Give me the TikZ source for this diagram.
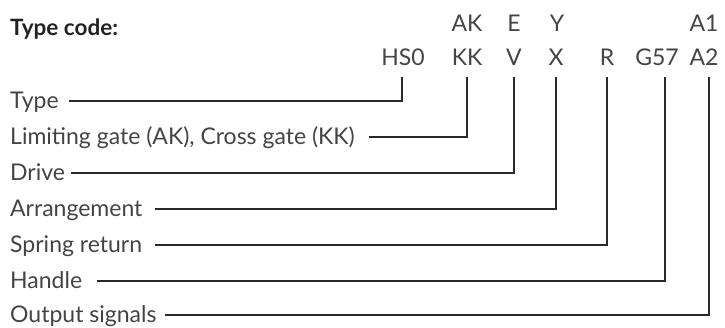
\documentclass[tikz,border=0pt]{standalone}
\usepackage{fontspec}
\setmainfont{Lato}
\definecolor{txt}{HTML}{444444}
\definecolor{ttl}{HTML}{222222}
\definecolor{ln}{HTML}{2A2A2A}
\begin{document}
\begin{tikzpicture}[x=1pt,y=-1pt,
  lbl/.style={anchor=base west, inner sep=0pt, text height=16pt, text depth=0pt,
    font=\fontsize{23}{27}\selectfont, text=txt},
  code/.style={anchor=base, inner sep=0pt, font=\fontsize{23}{27}\selectfont, text=txt},
  conn/.style={draw=ln, line width=1.4pt}]
\useasboundingbox (0,0) rectangle (725,328);
% title
\node[anchor=base west, inner sep=0pt, font=\bfseries\fontsize{22.5}{27}\selectfont, text=ttl] (title) at (10,36) {Type code:};
% code letters
\node[code] (c1) at (403,66) {HS0};
\node[code] (c2) at (467,66) {KK};
\node[code] (c2a) at (467,32) {AK};
\node[code] (c3) at (514,66) {V};
\node[code] (c3a) at (514,32) {E};
\node[code] (c4) at (556,66) {X};
\node[code] (c4a) at (557,32) {Y};
\node[code] (c5) at (607,66) {R};
\node[code] (c6) at (657,66) {G57};
\node[code] (c7) at (704,66) {A2};
\node[code] (c7a) at (704,32) {A1};
% labels
\node[lbl] (l1) at (10,109) {Type};
\node[lbl] (l2) at (10,145) {Limiting gate (AK), Cross gate (KK)};
\node[lbl] (l3) at (10,181) {Drive};
\node[lbl] (l4) at (10,217) {Arrangement};
\node[lbl] (l5) at (10,253) {Spring return};
\node[lbl] (l6) at (10,289) {Handle};
\node[lbl] (l7) at (10,323) {Output signals};
% tops of the vertical lines
\coordinate (t1) at (402,77);
\coordinate (t2) at (467,77);
\coordinate (t3) at (514,77);
\coordinate (t4) at (556,77);
\coordinate (t5) at (607,77);
\coordinate (t6) at (665,77);
\coordinate (t7) at (709,77);
% connectors
\draw[conn] ([xshift=10pt]l1.east) -| (t1);
\draw[conn] ([xshift=14pt]l2.east) -| (t2);
\draw[conn] ([xshift=6pt]l3.east) -| (t3);
\draw[conn] ([xshift=12pt]l4.east) -| (t4);
\draw[conn] ([xshift=13pt]l5.east) -| (t5);
\draw[conn] ([xshift=15pt]l6.east) -| (t6);
\draw[conn] ([xshift=8pt]l7.east) -| (t7);
\end{tikzpicture}
\end{document}
